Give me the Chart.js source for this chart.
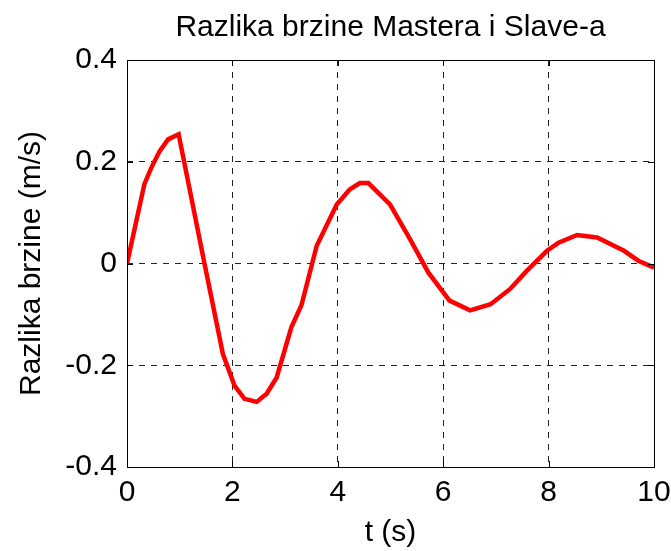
<!DOCTYPE html>
<html>
<head>
<meta charset="utf-8">
<script src="https://cdn.jsdelivr.net/npm/chart.js@4/dist/chart.umd.min.js"></script>
<style>
  html, body { margin: 0; padding: 0; background: #fff; }
  #wrap { width: 671px; height: 551px; }
</style>
</head>
<body>
<div id="wrap"><canvas id="chart1"></canvas></div>
<script>
// vrijeme (s) i razlika brzine (m/s)
const vrijeme = [0, 0.17, 0.33, 0.46, 0.62, 0.78, 0.98, 1.47, 1.82, 2.04, 2.23, 2.46, 2.65, 2.84,
	3.12, 3.31, 3.60, 3.98, 4.23, 4.42, 4.58, 4.99, 5.37, 5.72, 6.12, 6.51, 6.90, 7.27,
	7.59, 7.97, 8.19, 8.54, 8.92, 9.43, 9.71, 10.0];
const razlika = [0, 0.08, 0.156, 0.188, 0.221, 0.244, 0.254, 0.0, -0.178, -0.240, -0.266, -0.272, -0.256, -0.224,
	-0.125, -0.082, 0.035, 0.116, 0.146, 0.158, 0.158, 0.116, 0.048, -0.018, -0.073, -0.092, -0.080, -0.050,
	-0.014, 0.025, 0.041, 0.056, 0.051, 0.025, 0.005, -0.008];
const xTicks = [0, 2, 4, 6, 8, 10];
const yTicks = [-0.4, -0.2, 0, 0.2, 0.4];

const font = 'Liberation Sans, Arial, sans-serif';

// okvir oko grafa i kratke crtice prema unutra
const okvir = {
	id: 'okvir',
	afterDraw(chart) {
		const c = chart.ctx, a = chart.chartArea;
		const sx = chart.scales.x, sy = chart.scales.y;
		c.save();
		c.strokeStyle = '#000';
		c.lineWidth = 1;
		c.setLineDash([]);
		c.beginPath();
		xTicks.forEach(t => {
			const px = Math.round(sx.getPixelForValue(t)) + 0.5;
			c.moveTo(px, a.bottom); c.lineTo(px, a.bottom - 6);
			c.moveTo(px, a.top); c.lineTo(px, a.top + 6);
		});
		yTicks.forEach(t => {
			const py = Math.round(sy.getPixelForValue(t)) + 0.5;
			c.moveTo(a.left, py); c.lineTo(a.left + 6, py);
			c.moveTo(a.right, py); c.lineTo(a.right - 6, py);
		});
		c.stroke();
		c.strokeRect(Math.round(a.left) + 0.5, Math.round(a.top) + 0.5,
			Math.round(a.right - a.left), Math.round(a.bottom - a.top));
		c.restore();
	}
};

const tocke = vrijeme.map((t, i) => ({ x: t, y: razlika[i] }));

new Chart(document.getElementById('chart1'), {
	type: 'line',
	data: {
		datasets: [{
			data: tocke,
			borderColor: '#ff0000',
			borderWidth: 4.5,
			pointRadius: 0,
			tension: 0,
			fill: false,
		}]
	},
	options: {
		responsive: true,
		maintainAspectRatio: false,
		animation: false,
		layout: { padding: { left: 14, right: 17, top: 0, bottom: 0 } },
		plugins: {
			legend: { display: false },
			tooltip: { enabled: false },
			title: {
				display: true,
				fullSize: false,
				text: 'Razlika brzine Mastera i Slave-a',
				color: '#000',
				font: { family: font, size: 30, weight: 'normal' },
				padding: { top: 10, bottom: 14 },
			},
		},
		scales: {
			x: {
				type: 'linear',
				min: 0, max: 10,
				afterBuildTicks: s => { s.ticks = xTicks.map(v => ({ value: v })); },
				afterFit: s => { s.height = 84; s.paddingLeft = 0; s.paddingRight = 0; },
				grid: { color: '#222', lineWidth: 1, drawTicks: false },
				border: { display: false, dash: [6, 6] },
				ticks: { color: '#000', font: { family: font, size: 30 }, padding: 8, maxRotation: 0 },
				title: { display: true, text: 't (s)', color: '#000', font: { family: font, size: 30 }, padding: { top: 2, bottom: 0 } },
			},
			y: {
				min: -0.4, max: 0.4,
				afterBuildTicks: s => { s.ticks = yTicks.map(v => ({ value: v })); },
				afterFit: s => { s.width = 113; s.paddingTop = 0; s.paddingBottom = 0; },
				grid: { color: '#222', lineWidth: 1, drawTicks: false },
				border: { display: false, dash: [6, 6] },
				ticks: {
					color: '#000', font: { family: font, size: 30 }, padding: 10,
					callback: v => Math.abs(v) < 1e-9 ? '0' : v.toFixed(1),
				},
				title: { display: true, text: 'Razlika brzine (m/s)', color: '#000', font: { family: font, size: 30 }, padding: { top: 0, bottom: 4 } },
			}
		}
	},
	plugins: [okvir]
});
</script>
</body>
</html>
